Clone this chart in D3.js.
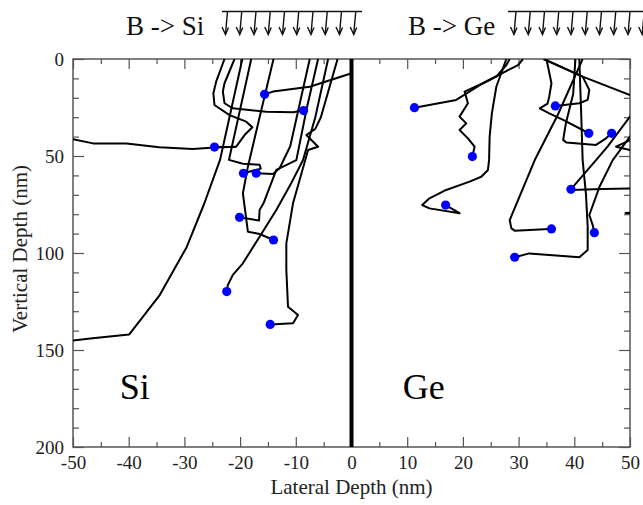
<!DOCTYPE html>
<html>
<head>
<meta charset="utf-8">
<script src="https://cdn.jsdelivr.net/npm/d3@7"></script>
<style>
body { margin: 0; background: #fff; }
</style>
</head>
<body>
<script>
var width = 643,
    height = 505,
    plotLeft = 73, plotRight = 630, plotTop = 59, plotBottom = 447;

// boron ion trajectories, [lateral nm, vertical nm]
var siPaths = [
    [[-19.6,0],[-21.6,26],[-23.6,52],[-26.5,75],[-29.6,97],[-34.5,122],[-39.9,142],[-46.5,144],[-56,147]],
    [[-22.8,0],[-24.3,11.7],[-24.8,17.7],[-24.6,23.7],[-21.9,28.9],[-18.9,32.3],[-17.8,35.2],[-19.2,39.2],[-20.7,45.2],[-24.6,45.4]],
    [[-20.7,45.2],[-24.6,45.6],[-28.5,46.4],[-34.5,45.5],[-40.4,43.5],[-46.4,43.5],[-50,41.4],[-56,40.5]],
    [[0,7.2],[-0.4,7.7],[-7.5,14.3],[-14.1,16.8],[-15.6,18.2]],
    [[-21,0],[-22.8,12.5],[-23.1,16.8],[-22.8,22.8],[-21.3,25.4],[-15.3,27.2],[-10.5,27.5],[-8.6,26.6]],
    [[-18,0],[-20,26],[-22,52],[-19.5,54],[-16.5,54.5],[-16.3,56.5],[-19.4,58.9]],
    [[-14,0],[-16.5,30],[-18.6,55.5],[-19.5,69.2],[-18.6,89],[-16.5,90.2],[-14,93.3]],
    [[-7.5,0],[-11,45],[-12.9,56.3],[-14.1,59.3],[-17.1,58.9]],
    [[-6,0],[-8,25],[-9.9,52.1],[-13.5,57.2],[-15.8,74.4],[-16.5,77.8],[-16.6,83.3],[-20.1,81.6]],
    [[-4.2,0],[-6.5,30],[-8.7,52.1],[-11,65],[-13.5,77.8],[-16.5,91.6],[-19.5,105.3],[-21.3,111.3],[-22.2,116.5],[-22.4,119.9]],
    [[-2.5,0],[-5.5,30],[-6.5,36],[-8.1,39.2],[-6,45.2],[-7.8,46.9],[-8.3,52.1],[-10.5,74.4],[-11.7,95],[-11.7,108.8],[-11.4,127.7],[-9.6,132],[-10.5,136.2],[-14.6,136.8]]
];

var siEnds = [
    [-15.6,18.2], [-8.6,26.6], [-24.6,45.4], [-19.4,58.9], [-17.1,58.9],
    [-20.1,81.6], [-14,93.3], [-22.4,119.9], [-14.6,136.8]
];

var gePaths = [
    [[28.4,0],[27.8,3.1],[26,9.1],[23.6,12.5],[18.8,21.1],[11.3,25.1]],
    [[30.8,0],[29.9,3.1],[23.6,12.5],[20.3,16.8],[20.9,22.8],[19.4,29.7],[20.6,33.2],[19.4,36.6],[20.9,40.9],[22.1,45.2],[21.7,50.3]],
    [[27.8,0],[26,14.3],[25.2,28],[24.8,40],[24.7,52],[24.5,57.2],[23.3,60.7],[21.2,63.2],[17,67.5],[14,71.8],[12.7,75.3],[14,77],[19.4,79.5],[16.9,75.3]],
    [[41.5,0],[37,29],[32.9,52.1],[28.4,83],[28.7,87.3],[29.3,88.5],[35.5,87.6],[35.9,87.6]],
    [[40.9,0],[41.2,25],[41.5,52.1],[42.1,70],[42.4,86.4],[42.4,98.5],[40.9,102.2],[35.5,101],[31.9,100.2],[29.3,102.2]],
    [[53,18],[50,29.7],[46,45],[43.9,52.1],[40.3,64.1],[39.4,67.2]],
    [[39.4,67.5],[45,67],[50,66.7],[55,66.5]],
    [[52,32],[50,40],[46.9,52.1],[44.5,66],[42.7,80.4],[43.3,85.6],[43.6,89.5]],
    [[34.5,0],[41.5,9.1],[42.7,16],[42.4,21.1],[40.9,22.8],[36.6,24.2]],
    [[34.5,0],[41.5,9.1],[50,18.6],[54,23]],
    [[35,0],[35.9,12.5],[35.5,19.4],[35.2,23],[33.8,25.4],[35.5,28],[38,31.4],[41.5,36.6],[42.6,38.3]],
    [[40.2,0],[39.8,18],[38.5,33],[38,41.7],[38.6,43.1],[43.9,44.3],[45.7,40.9],[46.7,38.3]],
    [[53,40],[50,41.8],[47.5,45.2],[50,46.9],[53,48]],
    [[53,79],[49.2,79.4],[53,80]]
];

var geEnds = [
    [11.3,25.1], [21.7,50.3], [36.6,24.2], [42.6,38.3], [46.7,38.3],
    [39.4,67.2], [16.9,75.3], [35.9,87.6], [43.6,89.5], [29.3,102.2]
];

var xMajor = d3.range(-50, 51, 10),
    xMinor = d3.range(-45, 50, 10),
    yMajor = [0, 50, 100, 150, 200],
    yMinor = d3.range(10, 200, 10).filter(function(d) { return d % 50 != 0; });

var x = d3.scaleLinear().domain([-50, 50]).range([plotLeft, plotRight]);
var y = d3.scaleLinear().domain([0, 200]).range([plotTop, plotBottom]);

var svg = d3.select("body").append("svg")
    .attr("width", width)
    .attr("height", height);

svg.append("clipPath").attr("id", "clip")
    .append("rect")
    .attr("x", plotLeft).attr("y", plotTop)
    .attr("width", plotRight - plotLeft).attr("height", plotBottom - plotTop);

var serif = "'Liberation Serif', 'Times New Roman', serif";

function styleAxis(g) {
    g.select(".domain").remove();
    g.selectAll(".tick line").attr("stroke", "#555").attr("stroke-width", 1.2);
    g.selectAll(".tick text")
        .attr("fill", "#222")
        .style("font-family", serif)
        .style("font-size", "19px");
}

var fmt = function(d) { return String(d); };

svg.append("g").attr("transform", "translate(0," + plotBottom + ")")
    .call(d3.axisBottom(x).tickValues(xMajor).tickSize(-10).tickPadding(9).tickFormat(fmt))
    .call(styleAxis);
svg.append("g").attr("transform", "translate(0," + plotBottom + ")")
    .call(d3.axisBottom(x).tickValues(xMinor).tickSize(-5).tickFormat(""))
    .call(styleAxis);
svg.append("g").attr("transform", "translate(0," + plotTop + ")")
    .call(d3.axisTop(x).tickValues(xMajor).tickSize(-10).tickFormat(""))
    .call(styleAxis);
svg.append("g").attr("transform", "translate(0," + plotTop + ")")
    .call(d3.axisTop(x).tickValues(xMinor).tickSize(-5).tickFormat(""))
    .call(styleAxis);

svg.append("g").attr("transform", "translate(" + plotLeft + ",0)")
    .call(d3.axisLeft(y).tickValues(yMajor).tickSize(-11).tickPadding(9).tickFormat(fmt))
    .call(styleAxis);
svg.append("g").attr("transform", "translate(" + plotLeft + ",0)")
    .call(d3.axisLeft(y).tickValues(yMinor).tickSize(-6).tickFormat(""))
    .call(styleAxis);
svg.append("g").attr("transform", "translate(" + plotRight + ",0)")
    .call(d3.axisRight(y).tickValues(yMajor).tickSize(-11).tickFormat(""))
    .call(styleAxis);
svg.append("g").attr("transform", "translate(" + plotRight + ",0)")
    .call(d3.axisRight(y).tickValues(yMinor).tickSize(-6).tickFormat(""))
    .call(styleAxis);

svg.append("rect")
    .attr("x", plotLeft).attr("y", plotTop)
    .attr("width", plotRight - plotLeft).attr("height", plotBottom - plotTop)
    .attr("fill", "none")
    .attr("stroke", "#555")
    .attr("stroke-width", 1.5);

var line = d3.line()
    .x(function(d) { return x(d[0]); })
    .y(function(d) { return y(d[1]); });

svg.append("g").attr("clip-path", "url(#clip)")
    .selectAll(".traj")
    .data(siPaths.concat(gePaths))
    .enter().append("path")
    .attr("class", "traj")
    .attr("d", line)
    .attr("fill", "none")
    .attr("stroke", "#000")
    .attr("stroke-width", 2)
    .attr("stroke-linejoin", "round");

// interface between Si and Ge
svg.append("line")
    .attr("x1", x(0)).attr("x2", x(0))
    .attr("y1", y(0)).attr("y2", y(200))
    .attr("stroke", "#000")
    .attr("stroke-width", 4);

svg.selectAll(".end")
    .data(siEnds.concat(geEnds))
    .enter().append("circle")
    .attr("class", "end")
    .attr("cx", function(d) { return x(d[0]); })
    .attr("cy", function(d) { return y(d[1]); })
    .attr("r", 4.6)
    .attr("fill", "#0000ff");

// labels
svg.append("text")
    .attr("x", (plotLeft + plotRight) / 2).attr("y", 494)
    .attr("text-anchor", "middle")
    .style("font-family", serif).style("font-size", "21px")
    .attr("fill", "#222")
    .text("Lateral Depth (nm)");

svg.append("text")
    .attr("transform", "translate(27," + ((plotTop + plotBottom) / 2 - 4) + ") rotate(-90)")
    .attr("text-anchor", "middle")
    .style("font-family", serif).style("font-size", "21px")
    .attr("fill", "#222")
    .text("Vertical Depth (nm)");

svg.append("text")
    .attr("x", x(-41.6)).attr("y", y(175.5))
    .style("font-family", serif).style("font-size", "36px")
    .text("Si");
svg.append("text")
    .attr("x", x(9.2)).attr("y", y(175.5))
    .style("font-family", serif).style("font-size", "36px")
    .text("Ge");

// beam arrows
function beam(label, tx, x0, x1, ax0) {
    svg.append("text")
        .attr("x", tx).attr("y", 35)
        .style("font-family", serif).style("font-size", "27px")
        .attr("fill", "#111")
        .text(label);
    svg.append("line")
        .attr("x1", x0).attr("x2", x1)
        .attr("y1", 11.5).attr("y2", 11.5)
        .attr("stroke", "#111").attr("stroke-width", 1.6);
    d3.range(10).forEach(function(i) {
        var ax = ax0 + i * 14.25;
        svg.append("line")
            .attr("x1", ax + 2).attr("x2", ax)
            .attr("y1", 11.5).attr("y2", 34)
            .attr("stroke", "#111").attr("stroke-width", 1.4);
        svg.append("path")
            .attr("d", "M" + (ax - 3.5) + ",27L" + ax + ",34.5L" + (ax + 3) + ",27.5")
            .attr("fill", "none")
            .attr("stroke", "#111").attr("stroke-width", 1.4);
    });
}

beam("B -> Si", 126, 222, 362, 225.5);
beam("B -> Ge", 408, 508, 643, 514);
</script>
</body>
</html>
